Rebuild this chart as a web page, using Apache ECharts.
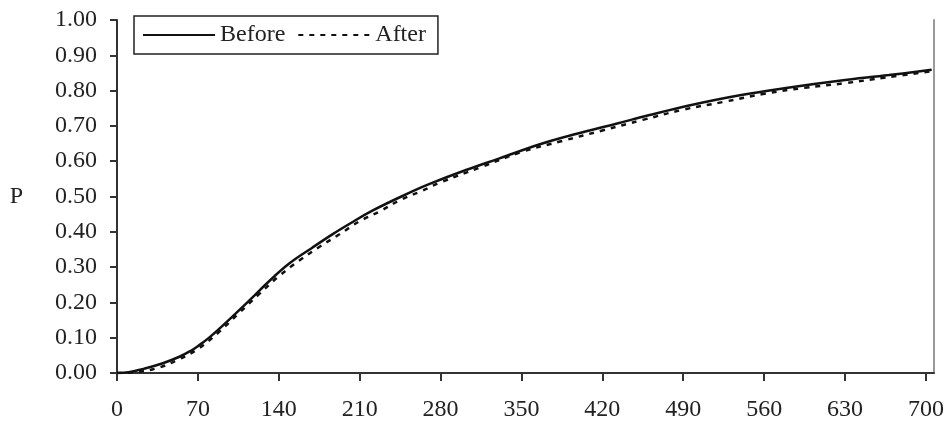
<!DOCTYPE html>
<html>
<head>
<meta charset="utf-8">
<style>
  html, body { margin: 0; padding: 0; background: #fff; }
  #chart { width: 951px; height: 423px; }
</style>
<script src="https://cdn.jsdelivr.net/npm/echarts@6/dist/echarts.min.js"></script>
</head>
<body>
<div id="chart"></div>
<script>
  // values: [time, P]
  var beforeData = [
    [0, 0], [10, 0.002], [22, 0.011], [39, 0.027], [54, 0.046], [65, 0.065],
    [70, 0.076], [80, 0.101], [95, 0.145], [115, 0.207], [130, 0.255],
    [149, 0.31], [169, 0.355], [187, 0.394], [201, 0.422], [221, 0.46],
    [256, 0.515], [270, 0.535], [302, 0.575], [331, 0.608], [366, 0.648],
    [397, 0.677], [432, 0.706], [460, 0.73], [495, 0.758], [539, 0.787],
    [582, 0.809], [625, 0.828], [668, 0.844], [705, 0.859]
  ]
  var afterData = [
    [0, 0], [17.5, 0.003], [35, 0.014], [52.5, 0.037], [70, 0.068],
    [87.5, 0.114], [105, 0.168], [122.5, 0.222], [140, 0.274], [157.5, 0.318],
    [175, 0.357], [192.5, 0.393], [210, 0.43], [227.5, 0.458], [245, 0.49],
    [262.5, 0.514], [280, 0.54], [315, 0.583], [350, 0.626], [385, 0.657],
    [420, 0.687], [455, 0.717], [490, 0.746], [525, 0.768], [560, 0.791],
    [595, 0.808], [630, 0.821], [665, 0.837], [705, 0.855]
  ]
  var xTicks = [0, 70, 140, 210, 280, 350, 420, 490, 560, 630, 700]

  var font = 'Liberation Serif'
  var chart = echarts.init(document.getElementById('chart'))
  chart.setOption({
    animation: false,
    backgroundColor: '#fff',
    grid: { left: 117, right: 17, top: 20, bottom: 50 },
    legend: {
      left: 134,
      top: 16,
      padding: [7, 12, 7, 8],
      itemGap: 12,
      itemWidth: 72,
      itemHeight: 14,
      borderColor: '#222',
      borderWidth: 1.5,
      borderRadius: 0,
      itemStyle: { opacity: 0 },
      textStyle: { fontFamily: font, fontSize: 24, color: '#222' },
      data: ['Before', 'After']
    },
    xAxis: {
      type: 'value',
      min: 0,
      max: 707,
      interval: 70,
      splitLine: { show: false },
      axisLine: { lineStyle: { color: '#333', width: 2 } },
      axisTick: { length: 8, customValues: xTicks, lineStyle: { color: '#333', width: 2 } },
      axisLabel: {
        customValues: xTicks,
        margin: 25,
        fontFamily: font,
        fontSize: 24,
        color: '#222'
      }
    },
    yAxis: [{
      type: 'value',
      min: 0,
      max: 1,
      interval: 0.1,
      name: 'P',
      nameLocation: 'middle',
      nameRotate: 0,
      nameGap: 94,
      nameTextStyle: { fontFamily: font, fontSize: 24, color: '#222' },
      splitLine: { show: false },
      axisLine: { show: true, lineStyle: { color: '#333', width: 2 } },
      axisTick: { show: true, length: 7, lineStyle: { color: '#333', width: 2 } },
      axisLabel: {
        margin: 20,
        fontFamily: font,
        fontSize: 24,
        color: '#222',
        formatter: function (v) { return v.toFixed(2) }
      }
    }, {
      type: 'value',
      position: 'right',
      min: 0,
      max: 1,
      splitLine: { show: false },
      axisLine: { show: true, lineStyle: { color: '#999', width: 2 } },
      axisTick: { show: false },
      axisLabel: { show: false }
    }],
    series: [{
      name: 'Before',
      type: 'line',
      symbol: 'none',
      smooth: 0.4,
      data: beforeData,
      lineStyle: { color: '#111', width: 2.5 }
    }, {
      name: 'After',
      type: 'line',
      symbol: 'none',
      smooth: 0.4,
      data: afterData,
      lineStyle: { color: '#111', width: 2.5, type: [5, 6] }
    }]
  })
</script>
</body>
</html>
